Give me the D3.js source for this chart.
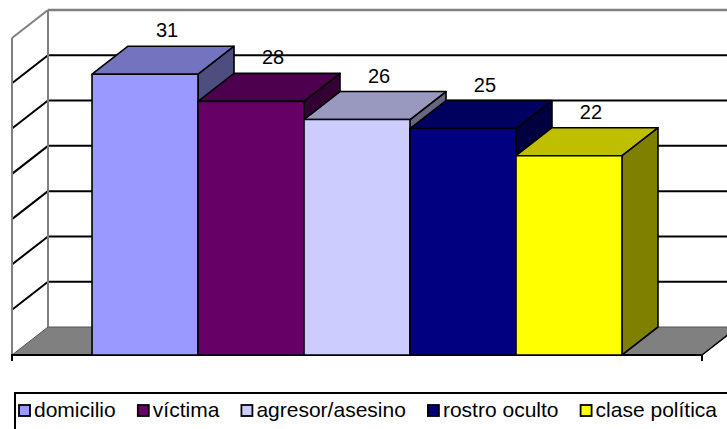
<!DOCTYPE html>
<html>
<head>
<meta charset="utf-8">
<script src="https://cdn.jsdelivr.net/npm/d3@7"></script>
<style>
  html, body { margin: 0; padding: 0; background: #fff; }
  svg { display: block; }
  text { font-family: "Liberation Sans", Arial, sans-serif; fill: #000; }
</style>
</head>
<body>
<svg id="chart" width="727" height="429"></svg>
<script>
// ---- data ----
const categories = ["domicilio", "víctima", "agresor/asesino", "rostro oculto", "clase política"];
const values = [31, 28, 26, 25, 22];
const colors = ["#9999FF", "#660066", "#CCCCFF", "#000080", "#FFFF00"];
const yTicks = [0, 5, 10, 15, 20, 25, 30, 35];

// ---- layout ----
const svg = d3.select("#chart");
const depthX = 36, depthY = 28;             // oblique 3D offset
const floorFrontY = 355;                    // front edge of floor
const frontLeft = 12, frontRight = 702;     // floor front span
const yMax = 35;

const yBack = d3.scaleLinear().domain([0, yMax]).range([floorFrontY - depthY, 10]);
const yFront = v => yBack(v) + depthY;

const x = d3.scaleBand().domain(categories).range([frontLeft, frontRight])
  .paddingInner(0).paddingOuter(0.755);

const gray = "#808080";
const backLeft = frontLeft + depthX, backRight = frontRight + depthX;
const g = svg.append("g");

// floor
g.append("polygon")
  .attr("points", [[frontLeft, floorFrontY], [backLeft, yBack(0)], [backRight, yBack(0)], [frontRight, floorFrontY]].map(p => p.join(",")).join(" "))
  .attr("fill", gray).attr("stroke", "#555").attr("stroke-width", 1);

// gridlines (back wall + side wall)
yTicks.filter(t => t > 0 && t < yMax).forEach(t => {
  g.append("line").attr("x1", backLeft).attr("x2", backRight + 20)
    .attr("y1", yBack(t)).attr("y2", yBack(t))
    .attr("stroke", "#000").attr("stroke-width", 2);
  g.append("line").attr("x1", frontLeft).attr("x2", backLeft)
    .attr("y1", yFront(t)).attr("y2", yBack(t))
    .attr("stroke", "#000").attr("stroke-width", 2);
});

// walls outline (gray)
g.append("line").attr("x1", backLeft).attr("x2", backRight + 20)
  .attr("y1", yBack(yMax)).attr("y2", yBack(yMax))
  .attr("stroke", gray).attr("stroke-width", 2.5);
g.append("line").attr("x1", backLeft).attr("x2", backLeft)
  .attr("y1", yBack(yMax)).attr("y2", yBack(0))
  .attr("stroke", gray).attr("stroke-width", 2);
g.append("line").attr("x1", frontLeft).attr("x2", frontLeft)
  .attr("y1", yFront(yMax)).attr("y2", floorFrontY)
  .attr("stroke", gray).attr("stroke-width", 2);
g.append("line").attr("x1", frontLeft).attr("x2", backLeft)
  .attr("y1", yFront(yMax)).attr("y2", yBack(yMax))
  .attr("stroke", gray).attr("stroke-width", 2);

// floor front edge + right diagonal + ticks
g.append("line").attr("x1", frontLeft - 1).attr("x2", frontRight)
  .attr("y1", floorFrontY).attr("y2", floorFrontY)
  .attr("stroke", "#000").attr("stroke-width", 2);
g.append("line").attr("x1", frontRight).attr("x2", backRight)
  .attr("y1", floorFrontY).attr("y2", yBack(0))
  .attr("stroke", "#000").attr("stroke-width", 1.5);
[frontLeft, frontRight].forEach(xx => {
  g.append("line").attr("x1", xx).attr("x2", xx)
    .attr("y1", floorFrontY).attr("y2", floorFrontY + 6)
    .attr("stroke", "#000").attr("stroke-width", 2);
});

// bars
const shade = (c, k) => { const r = d3.rgb(c); return d3.rgb(r.r * k, r.g * k, r.b * k).formatHex(); };
const bars = g.append("g");
categories.forEach((c, i) => {
  const x0 = x(c), x1 = x(c) + x.bandwidth();
  const yt = yFront(values[i]), yb = floorFrontY;
  const bg = bars.append("g").attr("stroke", "#000").attr("stroke-width", 1.6).attr("stroke-linejoin", "round");
  bg.append("polygon").attr("points", [[x1, yt], [x1 + depthX, yt - depthY], [x1 + depthX, yb - depthY], [x1, yb]].map(p => p.join(",")).join(" "))
    .attr("fill", shade(colors[i], 0.5));
  bg.append("polygon").attr("points", [[x0, yt], [x0 + depthX, yt - depthY], [x1 + depthX, yt - depthY], [x1, yt]].map(p => p.join(",")).join(" "))
    .attr("fill", shade(colors[i], 0.75));
  bg.append("rect").attr("x", x0).attr("y", yt).attr("width", x1 - x0).attr("height", yb - yt)
    .attr("fill", colors[i]);
});

// value labels
categories.forEach((c, i) => {
  svg.append("text")
    .attr("x", x(c) + x.bandwidth() / 2 + depthX / 2 + 4)
    .attr("y", yBack(values[i]) - 9)
    .attr("text-anchor", "middle")
    .attr("font-size", 20)
    .text(values[i]);
});

// legend
const lg = svg.append("g");
lg.append("rect").attr("x", 15).attr("y", 393).attr("width", 740).attr("height", 60)
  .attr("fill", "none").attr("stroke", "#000").attr("stroke-width", 2);
const legFont = 21, sw = 11, swGap = 4;
const items = lg.selectAll("g.item").data(categories).join("g").attr("class", "item");
items.append("rect").attr("width", sw).attr("height", sw)
  .attr("fill", (d, i) => colors[i]).attr("stroke", "#000").attr("stroke-width", 1.8);
items.append("text").attr("x", sw + swGap).attr("y", sw + 1).attr("font-size", legFont).text(d => d);
const widths = items.select("text").nodes().map(n => n.getComputedTextLength());
const startX = 19, endX = 717;
const totalItems = widths.reduce((a, w) => a + w + sw + swGap, 0);
const gap = (endX - startX - totalItems) / (categories.length - 1);
let cx = startX;
items.each(function (d, i) {
  d3.select(this).attr("transform", `translate(${cx},${405})`);
  cx += sw + swGap + widths[i] + gap;
});
</script>
</body>
</html>
